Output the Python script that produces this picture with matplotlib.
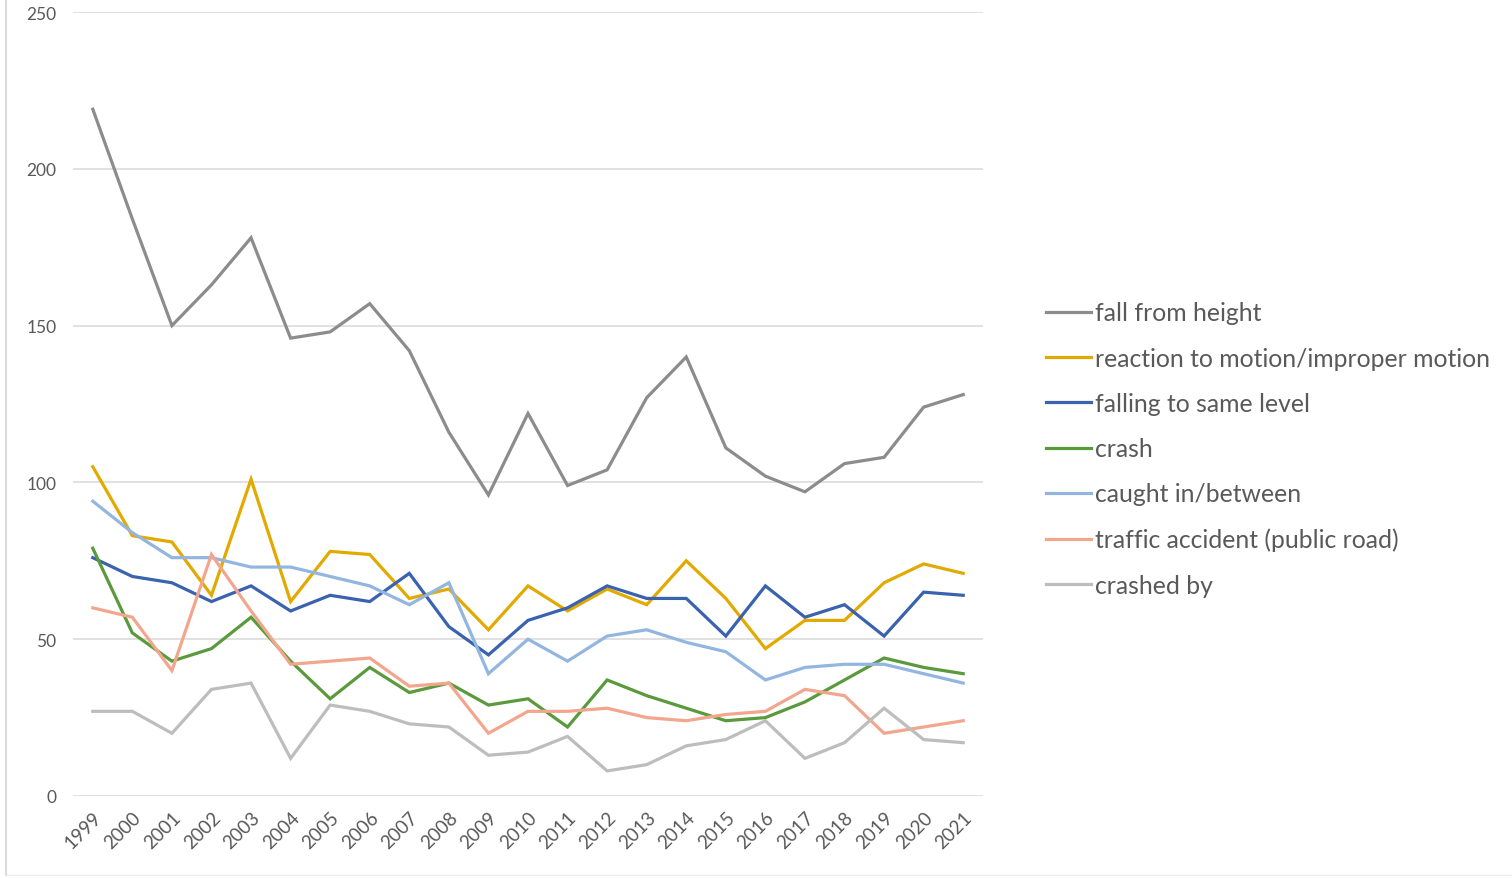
import matplotlib.pyplot as plt
from matplotlib.lines import Line2D

years = list(range(1999, 2022))

fall_from_height = [219, 184, 150, 163, 178, 146, 148, 157, 142, 116, 96, 122,
                    99, 104, 127, 140, 111, 102, 97, 106, 108, 124, 128]
reaction_motion = [105, 83, 81, 64, 101, 62, 78, 77, 63, 66, 53, 67,
                   59, 66, 61, 75, 63, 47, 56, 56, 68, 74, 71]
falling_same_level = [76, 70, 68, 62, 67, 59, 64, 62, 71, 54, 45, 56,
                      60, 67, 63, 63, 51, 67, 57, 61, 51, 65, 64]
crash = [79, 52, 43, 47, 57, 43, 31, 41, 33, 36, 29, 31,
         22, 37, 32, 28, 24, 25, 30, 37, 44, 41, 39]
caught_in = [94, 84, 76, 76, 73, 73, 70, 67, 61, 68, 39, 50,
             43, 51, 53, 49, 46, 37, 41, 42, 42, 39, 36]
traffic_accident = [60, 57, 40, 77, 59, 42, 43, 44, 35, 36, 20, 27,
                    27, 28, 25, 24, 26, 27, 34, 32, 20, 22, 24]
crashed_by = [27, 27, 20, 34, 36, 12, 29, 27, 23, 22, 13, 14,
              19, 8, 10, 16, 18, 24, 12, 17, 28, 18, 17]

series = [
    ("fall from height", fall_from_height, "#8c8c8c"),
    ("reaction to motion/improper motion", reaction_motion, "#e2aa00"),
    ("falling to same level", falling_same_level, "#3a62ae"),
    ("crash", crash, "#5a9a3c"),
    ("caught in/between", caught_in, "#93b6e0"),
    ("traffic accident (public road)", traffic_accident, "#f2a68e"),
    ("crashed by", crashed_by, "#bdbdbd"),
]

plt.rcParams['font.family'] = ['Lato', 'DejaVu Sans']
text_color = "#595959"

fig = plt.figure(figsize=(15.12, 8.79), dpi=100)
ax = fig.add_axes([73 / 1512, 1 - 797 / 879, (983 - 73) / 1512, (797 - 13) / 879])

x = list(range(len(years)))
handles = []
for name, vals, color in series:
    ax.plot(x, vals, color=color, linewidth=2.3, solid_joinstyle='miter')
    handles.append(Line2D([0], [0], color=color, linewidth=2.3, label=name))

ax.set_xlim(-0.5, len(years) - 0.5)
ax.set_ylim(0, 250)
ax.set_yticks([0, 50, 100, 150, 200, 250])
ax.set_xticks(x)
ax.set_xticklabels([str(y) for y in years], rotation=45, ha='right',
                   rotation_mode='anchor', fontsize=13.5, color=text_color)
ax.tick_params(axis='y', length=0, pad=12, labelsize=12.5, labelcolor=text_color)
ax.tick_params(axis='x', length=0, pad=9)
ax.grid(axis='y', color='#d9d9d9', linewidth=1.1)
ax.set_axisbelow(True)
for s in ax.spines.values():
    s.set_visible(False)

fig.legend(handles=handles, loc='center left', bbox_to_anchor=(1046 / 1512, 1 - 450 / 879),
           frameon=False, fontsize=17.8, handlelength=1.8, handletextpad=0.17,
           labelspacing=0.9, labelcolor=text_color, borderaxespad=0, borderpad=0)

# chart-area border remnants on the left and bottom
fig.add_artist(Line2D([6 / 1512, 6 / 1512], [0.003, 1], color='#d9d9d9', linewidth=1.5,
                      transform=fig.transFigure))
fig.add_artist(Line2D([6 / 1512, 1], [0.003, 0.003], color='#ececec', linewidth=1.0,
                      transform=fig.transFigure))

fig.savefig('out.png', dpi=100)
